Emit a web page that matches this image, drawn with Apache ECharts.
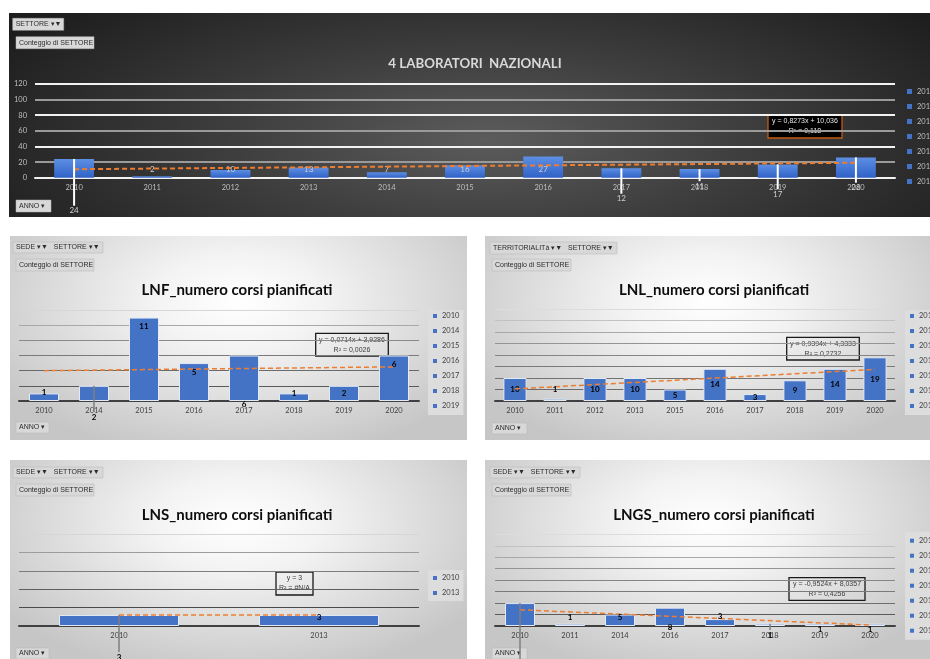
<!DOCTYPE html>
<html>
<head>
<meta charset="utf-8">
<script src="https://cdn.jsdelivr.net/npm/echarts@6/dist/echarts.min.js"></script>
<style>
  html, body { margin: 0; padding: 0; background: #fff; }
  body { width: 930px; height: 659px; position: relative; overflow: hidden; }
  .panel { position: absolute; }
  #top { left: 9px; top: 13px; width: 921px; height: 204px;
    background: radial-gradient(ellipse 62% 95% at 52% 62%, #5c5c5c 0%, #3e3e3e 45%, #1d1d1d 100%); }
  .light { background: radial-gradient(ellipse 62% 78% at 50% 32%, #ffffff 0%, #f3f3f3 30%, #c6c6c6 100%); }
  #lnf { left: 10px; top: 236px; width: 457px; height: 204px; }
  #lnl { left: 485px; top: 236px; width: 445px; height: 204px; }
  #lns { left: 10px; top: 460px; width: 457px; height: 199px; }
  #lngs { left: 485px; top: 460px; width: 445px; height: 199px; }
</style>
</head>
<body>
<div id="top" class="panel"></div>
<div id="lnf" class="panel light"></div>
<div id="lnl" class="panel light"></div>
<div id="lns" class="panel light"></div>
<div id="lngs" class="panel light"></div>
<script>
  // dati (conteggio di SETTORE per ANNO)
  const topYears = ['2010', '2011', '2012', '2013', '2014', '2015', '2016', '2017', '2018', '2019', '2020'];
  const topValues = [24, 2, 10, 13, 7, 16, 27, 12, 11, 17, 26];
  const topTrend = [10.863, 19.136];   // linea di tendenza, primo e ultimo anno
  const topTrendText = ['y = 0,8273x + 10,036', 'R² = 0,118'];

  const lnfYears = ['2010', '2014', '2015', '2016', '2017', '2018', '2019', '2020'];
  const lnfValues = [1, 2, 11, 5, 6, 1, 2, 6];
  const lnfTrend = [4.0, 4.5];
  const lnfTrendText = ['y = 0,0714x + 3,9286', 'R² = 0,0026'];

  const lnlYears = ['2010', '2011', '2012', '2013', '2015', '2016', '2017', '2018', '2019', '2020'];
  const lnlValues = [10, 1, 10, 10, 5, 14, 3, 9, 14, 19];
  const lnlTrend = [5.273, 13.727];
  const lnlTrendText = ['y = 0,9394x + 4,3333', 'R² = 0,2732'];

  const lnsYears = ['2010', '2013'];
  const lnsValues = [3, 3];
  const lnsTrend = [3, 3];
  const lnsTrendText = ['y = 3', 'R² = #N/A'];

  const lngsYears = ['2010', '2011', '2014', '2016', '2017', '2018', '2019', '2020'];
  const lngsValues = [10, 1, 5, 8, 3, 1, 1, 1];
  const lngsTrend = [7.083, 0.417];
  const lngsTrendText = ['y = -0,9524x + 8,0357', 'R² = 0,4256'];

  const FONT = 'Lato, "Liberation Sans", sans-serif';
  const SMALL_FONT = '"Liberation Sans", sans-serif';

  function button(x, y, w, h, text) {
    return {
      type: 'group', x: x, y: y, z: 20,
      children: [
        { type: 'rect', shape: { x: 0, y: 0, width: w, height: h },
          style: { fill: '#d8d8d8', stroke: '#b5b5b5', lineWidth: 0.5 } },
        { type: 'text', x: 3, y: h / 2,
          style: { text: text, fill: '#2b2b2b', fontSize: 7, fontFamily: SMALL_FONT, verticalAlign: 'middle' } }
      ]
    };
  }

  function trendBox(x, y, w, h, lines, dark) {
    const txt = (t, ty) => ({ type: 'text', x: w / 2, y: ty,
      style: { text: t, align: 'center', verticalAlign: 'middle',
        fill: dark ? '#e8e8e8' : '#404040', fontSize: 7, fontFamily: SMALL_FONT } });
    return {
      type: 'group', x: x, y: y, z: 20,
      children: [
        { type: 'rect', shape: { x: 0, y: 0, width: w, height: h },
          style: { fill: dark ? '#000' : 'rgba(255,255,255,0)', stroke: dark ? '#C55A11' : '#1a1a1a', lineWidth: 1.3 } },
        txt(lines[0], h / 2 - 5),
        txt(lines[1], h / 2 + 5)
      ]
    };
  }

  function buildChart(id, c) {
    const chart = echarts.init(document.getElementById(id));
    const n = c.years.length;

    // una serie per anno, impilate: così la legenda elenca gli anni come in Excel
    const bars = c.years.map((y, i) => ({
      type: 'bar', name: y, stack: 'anno', barWidth: c.barWidth,
      data: c.values.map((v, j) => (j === i ? v : '-')),
      itemStyle: c.barStyle,
      label: {
        show: !(i in c.shifts), position: c.labelPos, distance: c.labelDist,
        color: c.labelColor, fontSize: 8, fontWeight: c.labelWeight, fontFamily: FONT
      },
      z: 2
    }));

    const trend = {
      type: 'line', name: 'tendenza', silent: true, connectNulls: true, symbol: 'none', z: 3,
      data: c.years.map((y, i) => (i === 0 ? c.trend[0] : (i === n - 1 ? c.trend[1] : null))),
      lineStyle: { color: '#ED7D31', width: c.trendWidth, type: [5, 3] }
    };

    // etichette spostate con linea guida
    const moved = {
      type: 'custom', silent: true, clip: false, z: 4,
      data: c.values.map((v, i) => [i, v]),
      renderItem: function (params, api) {
        const i = params.dataIndex;
        const dy = c.shifts[i];
        if (dy === undefined) return null;
        const top = api.coord([i, api.value(1)]);
        const base = api.coord([i, 0]);
        const ly = base[1] + dy;
        const children = [];
        if (dy > 8) {
          children.push({ type: 'line', shape: { x1: top[0], y1: top[1], x2: top[0], y2: ly - 5 },
            style: { stroke: c.leaderColor, lineWidth: c.leaderWidth } });
        }
        children.push({ type: 'text', x: top[0], y: ly,
          style: { text: String(api.value(1)), align: 'center', verticalAlign: 'middle',
            fill: c.labelColor, fontSize: 8, fontWeight: c.labelWeight, fontFamily: FONT } });
        return { type: 'group', children: children };
      }
    };

    chart.setOption({
      animation: false,
      backgroundColor: 'transparent',
      grid: Object.assign({ outerBoundsMode: 'none', containLabel: false }, c.grid),
      legend: {
        data: c.years.slice(0, 7), orient: 'vertical', left: c.legend.left, top: c.legend.top,
        icon: 'rect', itemWidth: c.legend.mark, itemHeight: c.legend.mark, itemGap: 5,
        padding: c.legend.padding, backgroundColor: c.legend.bg, selectedMode: false,
        itemStyle: { color: '#4472C4', borderWidth: 0 },
        textStyle: { color: c.legend.color, fontSize: 7.5, fontFamily: FONT, lineHeight: 10 }
      },
      xAxis: {
        type: 'category', data: c.years,
        axisLine: { lineStyle: { color: c.axisColor, width: 2 } },
        axisTick: { show: false },
        axisLabel: { color: c.tickColor, fontSize: 7.5, fontFamily: FONT, margin: 6 }
      },
      yAxis: {
        type: 'value', min: 0, max: c.yMax, interval: c.yStep,
        axisLine: { show: false }, axisTick: { show: false },
        axisLabel: { show: c.showY, color: c.tickColor, fontSize: 7.5, fontFamily: FONT, margin: 8 },
        splitLine: { lineStyle: { color: c.splitColors, width: c.splitWidth } }
      },
      graphic: c.graphic,
      series: bars.concat([trend, moved])
    });
    return chart;
  }

  const lightBar = { color: '#4472C4', borderColor: '#e3e9f5', borderWidth: 1 };
  const lightLegend = (left, top, pad) => ({ left: left, top: top, mark: 4, padding: pad, bg: '#dddddd', color: '#404040' });

  buildChart('top', {
    years: topYears, values: topValues, trend: topTrend,
    yMax: 120, yStep: 20, showY: true,
    grid: { left: 26, right: 35, top: 71, bottom: 39.3 },
    barWidth: '51%',
    barStyle: { color: new echarts.graphic.LinearGradient(0, 0, 0, 1, [
      { offset: 0, color: '#5d8fe4' }, { offset: 1, color: '#2f62c6' }]) },
    labelPos: 'insideBottom', labelDist: 4, labelColor: '#cfcfcf', labelWeight: 'normal',
    shifts: { 0: 33, 7: 21, 8: 8.5, 9: 16.5, 10: 10 },
    leaderColor: '#ffffff', leaderWidth: 2, trendWidth: 2,
    axisColor: '#f2f2f2', tickColor: '#bfbfbf',
    splitColors: ['#f2f2f2', '#9a9a9a'], splitWidth: 2,
    legend: { left: 898, top: 73.5, mark: 5, padding: 0, bg: 'transparent', color: '#bfbfbf' },
    graphic: [
      { type: 'text', x: 466, y: 51, z: 20,
        style: { text: '4 LABORATORI  NAZIONALI', align: 'center', verticalAlign: 'middle',
          fill: '#d9d9d9', fontSize: 13.3, fontWeight: 'bold', fontFamily: FONT } },
      button(3.7, 5.3, 51, 12, 'SETTORE ▾▼'),
      button(7, 23.7, 78, 12, 'Conteggio di SETTORE'),
      button(7, 187, 35, 12, 'ANNO ▾'),
      trendBox(759, 102, 74, 23, topTrendText, true)
    ]
  });

  const smallCommon = {
    showY: false, barWidth: '60%', barStyle: lightBar,
    labelColor: '#000', labelWeight: 'bold',
    leaderColor: '#7f7f7f', leaderWidth: 1.5, trendWidth: 1.5,
    axisColor: '#404040', tickColor: '#404040', splitWidth: 1
  };

  function smallTitle(x, y, text) {
    return { type: 'text', x: x, y: y, z: 20,
      style: { text: text, align: 'center', verticalAlign: 'middle',
        fill: '#0d0d0d', fontSize: 15, fontWeight: 'bold', fontFamily: FONT } };
  }

  buildChart('lnf', Object.assign({}, smallCommon, {
    years: lnfYears, values: lnfValues, trend: lnfTrend,
    yMax: 12, yStep: 2,
    grid: { left: 9, right: 48, top: 74, bottom: 39 },
    labelPos: 'insideTop', labelDist: 5,
    shifts: { 0: -9, 1: 16, 4: 3, 5: -8, 6: -8 },
    splitColors: ['#404040', '#5a5a5a', '#6a6a6a', '#7a7a7a', '#8a8a8a', '#a8a8a8', '#d6d6d6'],
    legend: lightLegend(418, 74, [1, 4, 4, 5]),
    graphic: [
      smallTitle(227, 54, 'LNF_numero corsi pianificati'),
      button(3, 6, 90, 11, 'SEDE ▾▼   SETTORE ▾▼'),
      button(6, 23, 78, 12, 'Conteggio di SETTORE'),
      button(6, 186, 33, 11, 'ANNO ▾'),
      trendBox(305.7, 97.3, 72.6, 22.7, lnfTrendText, false)
    ]
  }));

  buildChart('lnl', Object.assign({}, smallCommon, {
    years: lnlYears, values: lnlValues, trend: lnlTrend,
    yMax: 40, yStep: 5,
    grid: { left: 10, right: 35, top: 73, bottom: 39 },
    barWidth: '58%',
    labelPos: 'inside', labelDist: 0,
    shifts: { 1: -12 },
    splitColors: ['#404040', '#6a6a6a', '#737373', '#7a7a7a', '#858585', '#949494', '#a8a8a8', '#c2c2c2', '#dcdcdc'],
    legend: lightLegend(420, 74, [1, 4, 4, 5]),
    graphic: [
      smallTitle(229, 54, 'LNL_numero corsi pianificati'),
      button(5, 6, 127, 12, 'TERRITORIALITà ▾▼   SETTORE ▾▼'),
      button(7, 23, 79, 12, 'Conteggio di SETTORE'),
      button(7, 187, 35, 11, 'ANNO ▾'),
      trendBox(301.7, 101.3, 72.6, 22.7, lnlTrendText, false)
    ]
  }));

  buildChart('lns', Object.assign({}, smallCommon, {
    years: lnsYears, values: lnsValues, trend: lnsTrend,
    yMax: 25, yStep: 5,
    grid: { left: 9, right: 48, top: 74.3, bottom: 33 },
    labelPos: 'insideTop', labelDist: 2,
    shifts: { 0: 31, 1: -8.3 },
    splitColors: ['#404040', '#4a4a4a', '#5e5e5e', '#7d7d7d', '#9c9c9c', '#d6d6d6'],
    legend: lightLegend(418, 110, [3, 4, 3, 5]),
    graphic: [
      smallTitle(227, 55, 'LNS_numero corsi pianificati'),
      button(3, 7, 90, 11, 'SEDE ▾▼   SETTORE ▾▼'),
      button(6, 24, 78, 12, 'Conteggio di SETTORE'),
      button(6, 188, 33, 11, 'ANNO ▾'),
      trendBox(266, 112, 37, 23, lnsTrendText, false)
    ]
  }));

  buildChart('lngs', Object.assign({}, smallCommon, {
    years: lngsYears, values: lngsValues, trend: lngsTrend,
    yMax: 40, yStep: 5,
    grid: { left: 10, right: 35, top: 74.3, bottom: 33 },
    labelPos: 'inside', labelDist: 0,
    shifts: { 0: 42, 1: -8.3, 2: -8.3, 3: 1.5, 4: -9.3, 5: 9, 6: 3, 7: 3 },
    splitColors: ['#404040', '#5a5a5a', '#6e6e6e', '#7a7a7a', '#858585', '#949494', '#a8a8a8', '#c2c2c2', '#dcdcdc'],
    legend: lightLegend(420, 71.7, [4, 4, 4, 5]),
    graphic: [
      smallTitle(229, 55, 'LNGS_numero corsi pianificati'),
      button(5, 7, 90, 11, 'SEDE ▾▼   SETTORE ▾▼'),
      button(7, 24, 79, 12, 'Conteggio di SETTORE'),
      button(7, 188, 35, 11, 'ANNO ▾'),
      trendBox(304, 117.7, 76, 22.7, lngsTrendText, false)
    ]
  }));
</script>
</body>
</html>
